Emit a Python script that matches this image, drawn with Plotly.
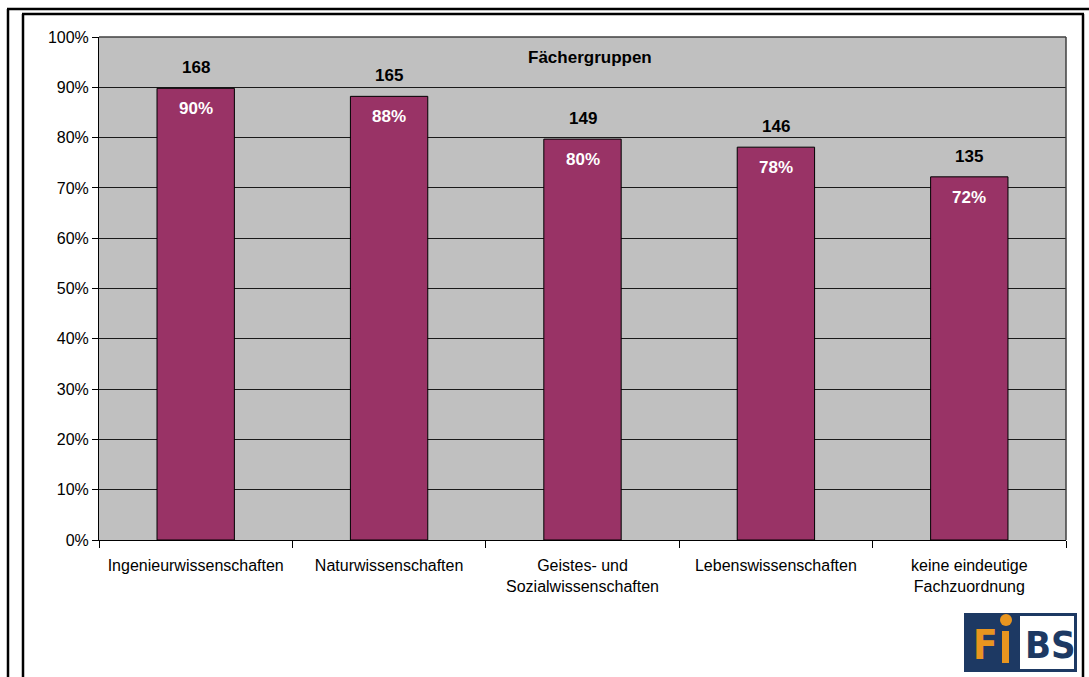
import plotly.graph_objects as go

# Data
categories = [
    "Ingenieurwissenschaften",
    "Naturwissenschaften",
    "Geistes- und<br>Sozialwissenschaften",
    "Lebenswissenschaften",
    "keine eindeutige<br>Fachzuordnung",
]
shares = [0.898, 0.882, 0.797, 0.781, 0.722]
counts = [168, 165, 149, 146, 135]
y_ticks = [0, 0.1, 0.2, 0.3, 0.4, 0.5, 0.6, 0.7, 0.8, 0.9, 1.0]

W, H = 1089, 677
ML, MR, MT, MB = 99, 23, 37, 137
PW, PH = W - ML - MR, H - MT - MB

FONT = "Liberation Sans, Arial, sans-serif"
LOGO_FONT = "DejaVu Sans Condensed, Liberation Sans Narrow, sans-serif"
BAR = "#993366"
BLUE = "#1d3963"
ORANGE = "#e8951f"


def px(x):
    return (x - ML) / PW


def py(y):
    return (H - MB - y) / PH


fig = go.Figure()
fig.add_trace(go.Bar(
    x=categories, y=shares, width=0.4,
    marker=dict(color=BAR, line=dict(color="#000000", width=1)),
    hoverinfo="skip",
))

annotations = []
for c, v, n in zip(categories, shares, counts):
    annotations.append(dict(x=c, y=v, text=f"<b>{n}</b>", showarrow=False,
                            yanchor="bottom", yshift=9,
                            font=dict(family=FONT, size=17, color="#000000")))
    annotations.append(dict(x=c, y=v, text=f"<b>{v:.0%}</b>", showarrow=False,
                            yanchor="top", yshift=-9,
                            font=dict(family=FONT, size=17, color="#ffffff")))

annotations.append(dict(xref="paper", yref="paper", x=px(590), y=py(58),
                        text="<b>Fächergruppen</b>", showarrow=False,
                        xanchor="center", yanchor="middle",
                        font=dict(family=FONT, size=17, color="#000000")))

# FiBS logo
annotations.append(dict(xref="paper", yref="paper", x=px(985), y=py(645),
                        text="<b>F</b>", showarrow=False, xanchor="center", yanchor="middle",
                        font=dict(family=LOGO_FONT, size=40, color=ORANGE)))
annotations.append(dict(xref="paper", yref="paper", x=px(1050), y=py(645),
                        text="<b>BS</b>", showarrow=False, xanchor="center", yanchor="middle",
                        font=dict(family=LOGO_FONT, size=38, color=BLUE)))

shapes = [
    # plot area border (top / right)
    dict(type="line", xref="paper", yref="paper", x0=0, x1=1, y0=1, y1=1,
         line=dict(color="#404040", width=1.5)),
    dict(type="line", xref="paper", yref="paper", x0=1, x1=1, y0=0, y1=1,
         line=dict(color="#404040", width=1.5)),
    # double frame
    dict(type="line", xref="paper", yref="paper", x0=px(7), x1=px(1089), y0=py(9), y1=py(9),
         line=dict(color="#000000", width=2.5)),
    dict(type="line", xref="paper", yref="paper", x0=px(8), x1=px(8), y0=py(9), y1=py(680),
         line=dict(color="#000000", width=2.5)),
    dict(type="line", xref="paper", yref="paper", x0=px(22), x1=px(1084), y0=py(14), y1=py(14),
         line=dict(color="#000000", width=2.5)),
    dict(type="line", xref="paper", yref="paper", x0=px(23), x1=px(23), y0=py(14), y1=py(680),
         line=dict(color="#000000", width=2.5)),
    dict(type="line", xref="paper", yref="paper", x0=px(1083), x1=px(1083), y0=py(14), y1=py(680),
         line=dict(color="#000000", width=2.5)),
    # logo blocks
    dict(type="rect", xref="paper", yref="paper", x0=px(964), x1=px(1077), y0=py(672), y1=py(613),
         line=dict(width=0), fillcolor=BLUE, layer="above"),
    dict(type="rect", xref="paper", yref="paper", x0=px(1020), x1=px(1074), y0=py(669), y1=py(616),
         line=dict(width=0), fillcolor="#ffffff", layer="above"),
    dict(type="rect", xref="paper", yref="paper", x0=px(1002), x1=px(1009), y0=py(663), y1=py(631),
         line=dict(width=0), fillcolor=ORANGE, layer="above"),
    dict(type="circle", xref="paper", yref="paper", x0=px(1000), x1=px(1012), y0=py(626), y1=py(614),
         line=dict(width=0), fillcolor=ORANGE, layer="above"),
]

fig.update_layout(
    width=W, height=H,
    margin=dict(l=ML, r=MR, t=MT, b=MB, pad=0),
    paper_bgcolor="#ffffff",
    plot_bgcolor="#c0c0c0",
    showlegend=False,
    bargap=0.6,
    font=dict(family=FONT, size=16, color="#000000"),
    annotations=annotations,
    shapes=shapes,
)
fig.update_yaxes(
    range=[0, 1], tickvals=y_ticks, tickformat=".0%",
    showgrid=True, gridcolor="#1a1a1a", gridwidth=1,
    showline=True, linecolor="#000000", linewidth=1,
    ticks="outside", ticklen=6, tickcolor="#000000",
    zeroline=False, fixedrange=True,
    tickfont=dict(family=FONT, size=16, color="#000000"),
)
fig.update_xaxes(
    showline=True, linecolor="#000000", linewidth=1,
    ticks="outside", ticklen=7, tickcolor="#000000", tickson="boundaries",
    showgrid=False, fixedrange=True, ticklabelstandoff=11,
    tickfont=dict(family=FONT, size=16, color="#000000"),
)

fig.write_html("out.html", config={"displayModeBar": False})
